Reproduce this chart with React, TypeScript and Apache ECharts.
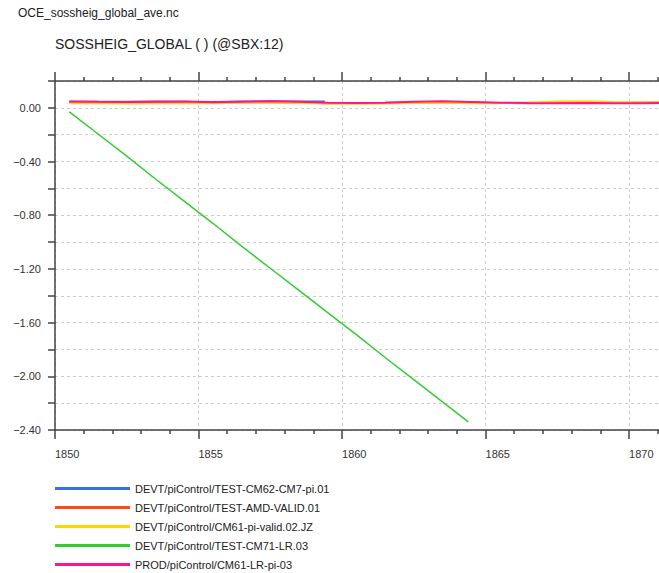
import React, { useEffect, useRef } from "react";
import * as echarts from "echarts";

const years = [1850.5, 1851.5, 1852.5, 1853.5, 1854.5, 1855.5, 1856.5, 1857.5, 1858.5, 1859.5, 1860.5, 1861.5, 1862.5, 1863.5, 1864.5, 1865.5, 1866.5, 1867.5, 1868.5, 1869.5, 1870.5, 1871.5, 1872.5];

const blueYears = [1850.5, 1851.5, 1852.5, 1853.5, 1854.5, 1855.5, 1856.5, 1857.5, 1858.5, 1859.4];
const blueValues = [0.045, 0.046, 0.046, 0.048, 0.046, 0.043, 0.047, 0.049, 0.048, 0.048];

const orangeValues = [0.043, 0.044, 0.042, 0.041, 0.038, 0.036, 0.04, 0.042, 0.038, 0.035, 0.037, 0.038, 0.041, 0.043, 0.04, 0.036, 0.035, 0.036, 0.038, 0.037, 0.039, 0.041, 0.041];
const yellowValues = [0.035, 0.034, 0.033, 0.034, 0.036, 0.035, 0.038, 0.04, 0.036, 0.032, 0.03, 0.032, 0.036, 0.038, 0.035, 0.034, 0.04, 0.048, 0.05, 0.044, 0.04, 0.042, 0.042];
const pinkValues = [0.047, 0.045, 0.044, 0.046, 0.048, 0.042, 0.046, 0.05, 0.045, 0.038, 0.036, 0.038, 0.046, 0.049, 0.044, 0.038, 0.036, 0.035, 0.036, 0.034, 0.035, 0.036, 0.036];

const greenYears = [1850.5, 1851.5, 1852.5, 1853.5, 1854.5, 1855.5, 1856.5, 1857.5, 1858.5, 1859.5, 1860.5, 1861.5, 1862.5, 1863.5, 1864.4];
const greenValues = [-0.03, -0.195, -0.36, -0.53, -0.695, -0.86, -1.03, -1.195, -1.36, -1.525, -1.69, -1.86, -2.025, -2.19, -2.34];

const seriesNames = [
  "DEVT/piControl/TEST-CM62-CM7-pi.01",
  "DEVT/piControl/TEST-AMD-VALID.01",
  "DEVT/piControl/CM61-pi-valid.02.JZ",
  "DEVT/piControl/TEST-CM71-LR.03",
  "PROD/piControl/CM61-LR-pi-03",
];
const seriesColors = ["#3b6ee8", "#ff4a10", "#ffd700", "#33cc33", "#ff1493"];

const zip = (xs: number[], ys: number[]) => xs.map((x, i) => [x, ys[i]]);

export default function App() {
  const ref = useRef<HTMLDivElement>(null);
  useEffect(() => {
    if (!ref.current) return;
    const chart = echarts.init(ref.current, null, { renderer: "svg" });
    const font = "Liberation Sans";
    const axisColor = "#444";
    const dataSets = [
      zip(blueYears, blueValues),
      zip(years, orangeValues),
      zip(years, yellowValues),
      zip(greenYears, greenValues),
      zip(years, pinkValues),
    ];
    const widths = [2, 2, 2, 1.5, 2];
    chart.setOption({
      animation: false,
      textStyle: { fontFamily: font },
      title: [
        {
          text: "OCE_sossheig_global_ave.nc",
          left: 18,
          top: 7,
          padding: 0,
          textStyle: { fontSize: 12, fontWeight: "normal", color: "#222", fontFamily: font },
        },
        {
          text: "SOSSHEIG_GLOBAL ( ) (@SBX:12)",
          left: 55,
          top: 37,
          padding: 0,
          textStyle: { fontSize: 14, fontWeight: "normal", color: "#222", fontFamily: font },
        },
      ],
      legend: {
        orient: "vertical",
        left: 55,
        top: 482,
        padding: 0,
        itemWidth: 75,
        itemHeight: 3,
        itemGap: 6,
        icon: "rect",
        selectedMode: false,
        textStyle: { fontSize: 11, color: "#222", lineHeight: 13, fontFamily: font },
        data: seriesNames.map((n, i) => ({ name: n, itemStyle: { color: seriesColors[i] } })),
      },
      grid: { left: 55, top: 81, width: 720, height: 349, containLabel: false },
      xAxis: [
        {
          type: "value",
          min: 1850,
          max: 1875,
          interval: 5,
          axisLine: { show: true, onZero: false, lineStyle: { color: axisColor, width: 1.5 } },
          axisTick: { show: true, length: 9, lineStyle: { color: axisColor, width: 1.5 } },
          minorTick: { show: true, splitNumber: 5, length: 4, lineStyle: { color: axisColor, width: 1.5 } },
          axisLabel: {
            color: "#333",
            fontSize: 11,
            align: "left",
            margin: 18,
            fontFamily: font,
            formatter: (v: number) => String(Math.round(v)),
          },
          splitLine: { show: true, lineStyle: { color: "#ccc", type: [3, 3], width: 1 } },
        },
        {
          type: "value",
          position: "top",
          min: 1850,
          max: 1875,
          interval: 5,
          axisLine: { show: true, onZero: false, lineStyle: { color: axisColor, width: 1.5 } },
          axisTick: { show: true, length: 9, lineStyle: { color: axisColor, width: 1.5 } },
          minorTick: { show: true, splitNumber: 5, length: 4, lineStyle: { color: axisColor, width: 1.5 } },
          axisLabel: { show: false },
          splitLine: { show: false },
        },
      ],
      yAxis: {
        type: "value",
        min: -2.4,
        max: 0.2,
        interval: 0.2,
        axisLine: { show: true, onZero: false, lineStyle: { color: axisColor, width: 1.5 } },
        axisTick: { show: true, length: 7, lineStyle: { color: axisColor, width: 1.5 } },
        axisLabel: {
          color: "#333",
          fontSize: 11,
          margin: 14,
          fontFamily: font,
          formatter: (v: number) => {
            const k = Math.round(v * 10);
            if (k % 4 !== 0) return "";
            const s = Math.abs(v).toFixed(2);
            return v < -1e-9 ? "\u2212" + s : s;
          },
        },
        splitLine: { show: true, lineStyle: { color: "#ccc", type: [3, 3], width: 1 } },
      },
      series: seriesNames.map((n, i) => ({
        name: n,
        type: "line",
        xAxisIndex: 0,
        data: dataSets[i],
        showSymbol: false,
        symbol: "none",
        smooth: false,
        lineStyle: { color: seriesColors[i], width: widths[i] },
        itemStyle: { color: seriesColors[i] },
        clip: true,
      })),
    });
    return () => chart.dispose();
  }, []);
  return (
    <div style={{ position: "absolute", left: 0, top: 0, width: 659, height: 573, overflow: "hidden", background: "#fff" }}>
      <div ref={ref} style={{ width: 800, height: 640 }} />
    </div>
  );
}
